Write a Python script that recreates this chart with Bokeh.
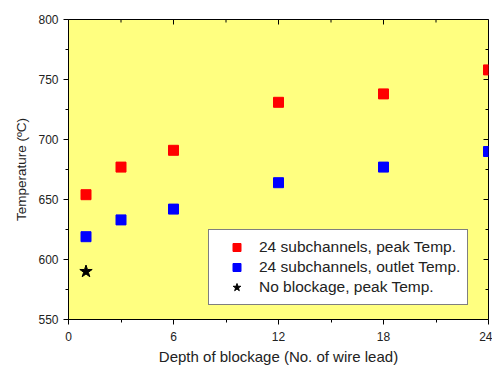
from bokeh.plotting import figure
from bokeh.models import LinearAxis, Range1d, FixedTicker, Legend, LegendItem, ColumnDataSource
from bokeh.embed import file_html
from bokeh.resources import INLINE

depth = [1, 3, 6, 12, 18, 24]
peak_temp = [654, 677, 691, 731, 738, 758]
outlet_temp = [619, 633, 642, 664, 677, 690]
noblock_depth = [1]
noblock_temp = [590]

x_major = [0, 6, 12, 18, 24]
x_minor = [3, 9, 15, 21]
y_major = [550, 600, 650, 700, 750, 800]
y_minor = [575, 625, 675, 725, 775]

FONT = "Liberation Sans"
TXT = "#222222"

p = figure(frame_width=420, frame_height=300, output_backend="svg", toolbar_location=None,
           x_range=Range1d(x_major[0], x_major[-1]), y_range=Range1d(y_major[0], y_major[-1]),
           x_axis_location=None, y_axis_location=None,
           min_border_left=68, min_border_right=4, min_border_top=19, min_border_bottom=0)
p.background_fill_color = "#FFFF80"
p.border_fill_color = "white"
p.outline_line_color = "black"
p.outline_line_width = 1
p.xgrid.visible = False
p.ygrid.visible = False

def style(ax):
    ax.axis_line_color = "black"
    ax.major_tick_line_color = "black"
    ax.minor_tick_line_color = "black"
    ax.major_tick_in, ax.major_tick_out = 0, 5
    ax.minor_tick_in, ax.minor_tick_out = 0, 3
    ax.major_label_text_font = FONT
    ax.major_label_text_font_size = "12px"
    ax.major_label_text_color = TXT
    ax.axis_label_text_font = FONT
    ax.axis_label_text_font_style = "normal"
    ax.axis_label_text_color = TXT

bottom = LinearAxis(ticker=FixedTicker(ticks=x_major, minor_ticks=x_minor),
                    axis_label="Depth of blockage (No. of wire lead)")
style(bottom)
bottom.axis_label_text_font_size = "15px"
bottom.major_label_standoff = 7
bottom.axis_label_standoff = 4
left = LinearAxis(ticker=FixedTicker(ticks=y_major, minor_ticks=y_minor),
                  axis_label="Temperature (ºC)")
style(left)
left.axis_label_text_font_size = "13.5px"
left.major_label_standoff = 5
left.axis_label_standoff = 6
p.add_layout(bottom, "below")
p.add_layout(left, "left")

# mirrored inward ticks on top and right edges (clipped to the frame)
top_src = ColumnDataSource(dict(x=x_major, y=[y_major[-1]] * len(x_major)))
top_min_src = ColumnDataSource(dict(x=x_minor, y=[y_major[-1]] * len(x_minor)))
right_src = ColumnDataSource(dict(x=[x_major[-1]] * len(y_major), y=y_major))
right_min_src = ColumnDataSource(dict(x=[x_major[-1]] * len(y_minor), y=y_minor))
p.scatter("x", "y", source=top_src, marker="dash", angle=1.5708, size=10, line_color="black", line_width=1)
p.scatter("x", "y", source=top_min_src, marker="dash", angle=1.5708, size=6, line_color="black", line_width=1)
p.scatter("x", "y", source=right_src, marker="dash", size=10, line_color="black", line_width=1)
p.scatter("x", "y", source=right_min_src, marker="dash", size=6, line_color="black", line_width=1)

src_peak = ColumnDataSource(dict(x=depth, y=peak_temp))
src_out = ColumnDataSource(dict(x=depth, y=outlet_temp))
src_nb = ColumnDataSource(dict(x=noblock_depth, y=noblock_temp))

r1 = p.scatter("x", "y", source=src_peak, marker="square", size=10, fill_color="#FF0000", line_color="#FF0000")
r2 = p.scatter("x", "y", source=src_out, marker="square", size=10, fill_color="#0000FF", line_color="#0000FF")
r3 = p.scatter("x", "y", source=src_nb, marker="star", size=13, fill_color="black", line_color="black")

legend = Legend(items=[LegendItem(label="24 subchannels, peak Temp.", renderers=[r1]),
                       LegendItem(label="24 subchannels, outlet Temp.", renderers=[r2]),
                       LegendItem(label="No blockage, peak Temp.", renderers=[r3])],
                location=(140, 14))
legend.label_text_font = FONT
legend.label_text_font_size = "15.5px"
legend.label_text_color = TXT
legend.label_height = 18
legend.glyph_height = 20
legend.glyph_width = 41
legend.label_standoff = 2
legend.spacing = -5
legend.padding = 7
legend.margin = 0
legend.border_line_color = "black"
legend.border_line_width = 1
legend.background_fill_color = "white"
legend.background_fill_alpha = 1
p.add_layout(legend, "center")

open("out.html", "w").write(file_html(p, INLINE))
